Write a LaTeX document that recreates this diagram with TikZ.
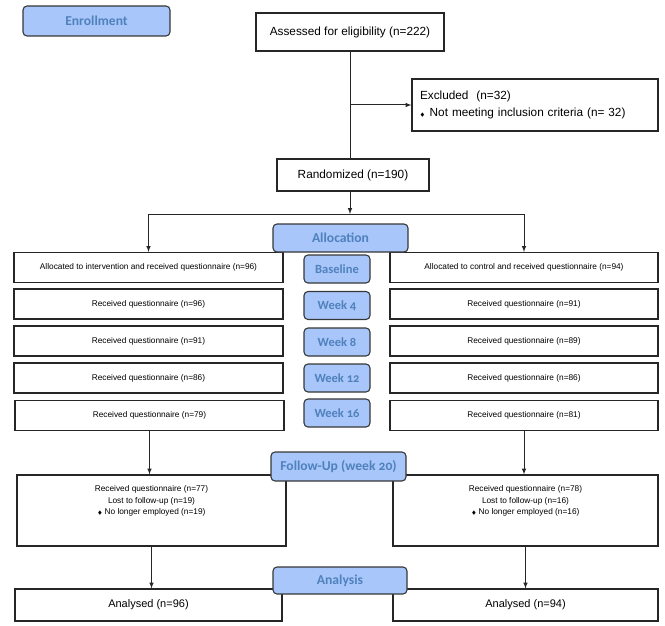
\documentclass[tikz,border=0pt]{standalone}
\usepackage{amsmath,amssymb}
\usepackage{fontspec}
\setmainfont{Liberation Sans}
\newfontfamily\stagefont[Numbers=OldStyle]{Carlito}
\usepackage{tikz}
\usetikzlibrary{arrows}
\usetikzlibrary{calc}

\definecolor{stagefill}{RGB}{168,198,250}
\definecolor{stagetext}{RGB}{79,129,189}
\definecolor{stageline}{RGB}{55,55,55}

\tikzset{
    box/.style={draw=black!85, line width=1.1pt, inner sep=0pt, align=center,
        font=\fontsize{11.8}{14}\selectfont},
    smallbox/.style={box, font=\fontsize{8.3}{11.5}\selectfont},
    stage/.style={draw=stageline, fill=stagefill, rounded corners=4pt, line width=1.1pt,
        inner sep=0pt, text=stagetext, font=\stagefont\bfseries\fontsize{13.6}{15}\selectfont},
    wk/.style={stage, minimum width=66pt, minimum height=28pt, font=\stagefont\bfseries\fontsize{12.5}{14}\selectfont},
    flow/.style={line width=1pt, black!85}
}

\newcommand{\dia}{{\tiny$\blacklozenge$}}

\begin{document}
\begin{tikzpicture}[x=1pt, y=-1pt]
    \useasboundingbox (0,0) rectangle (665,626);

    % enrollment
    \node[box, minimum width=188pt, minimum height=38pt] (assess) at (350,32) {Assessed for eligibility (n=222)};
    \node[box, minimum width=246pt, minimum height=52pt, align=left, text width=230pt, inner xsep=8pt,
        font=\fontsize{11.8}{17}\selectfont] (excl) at (535,105)
        {Excluded\ \ (n=32)\\\dia\hspace{5pt}Not meeting inclusion criteria (n= 32)};
    \node[box, minimum width=152pt, minimum height=32pt] (rand) at (353,175) {Randomized (n=190)};
    \coordinate (split) at (350,214);

    % allocation rows
    \node[smallbox, minimum width=269pt, minimum height=30pt] (l1) at (148.5,267.5) {Allocated to intervention and received questionnaire (n=96)};
    \node[smallbox, minimum width=268pt, minimum height=30pt] (r1) at (524,267.5) {Allocated to control and received questionnaire (n=94)};
    \node[smallbox, minimum width=269pt, minimum height=30pt] (l2) at (148.5,304) {Received questionnaire (n=96)};
    \node[smallbox, minimum width=268pt, minimum height=30pt] (r2) at (524,304) {Received questionnaire (n=91)};
    \node[smallbox, minimum width=269pt, minimum height=30pt] (l3) at (148.5,341) {Received questionnaire (n=91)};
    \node[smallbox, minimum width=268pt, minimum height=30pt] (r3) at (524,341) {Received questionnaire (n=89)};
    \node[smallbox, minimum width=269pt, minimum height=30pt] (l4) at (148.5,378) {Received questionnaire (n=86)};
    \node[smallbox, minimum width=268pt, minimum height=30pt] (r4) at (524,378) {Received questionnaire (n=86)};
    \node[smallbox, minimum width=269pt, minimum height=30pt] (l5) at (149.5,415.5) {Received questionnaire (n=79)};
    \node[smallbox, minimum width=268pt, minimum height=30pt] (r5) at (524,415.5) {Received questionnaire (n=81)};

    % follow-up
    \node[smallbox, minimum width=269pt, minimum height=71pt] (lfu) at (151.5,510.5) {};
    \node[smallbox, minimum width=265pt, minimum height=71pt] (rfu) at (525.5,510.5) {};
    \node[font=\fontsize{8.3}{11.5}\selectfont, align=center, anchor=north, inner sep=0pt] (lfutext) at ($(lfu.north)+(0,11)$)
        {Received questionnaire (n=77)\\Lost to follow-up (n=19)\\\dia\ No longer employed (n=19)};
    \node[font=\fontsize{8.3}{11.5}\selectfont, align=center, anchor=north, inner sep=0pt] (rfutext) at ($(rfu.north)+(0,11)$)
        {Received questionnaire (n=78)\\Lost to follow-up (n=16)\\\dia\ No longer employed (n=16)};

    % analysis
    \node[box, minimum width=267pt, minimum height=32pt, font=\fontsize{11}{13}\selectfont] (lan) at (148.5,605) {Analysed (n=96)};
    \node[box, minimum width=265pt, minimum height=32pt, font=\fontsize{11}{13}\selectfont] (ran) at (525.5,605) {Analysed (n=94)};

    % stage labels
    \node[stage, minimum width=147pt, minimum height=30pt] (enroll) at (96.5,21) {Enrollment};
    \node[stage, minimum width=135pt, minimum height=28pt] (alloc) at (340.5,238) {Allocation};
    \node[wk] (base) at (337,269) {Baseline};
    \node[wk] (wk4) at (337,305.5) {Week 4};
    \node[wk] (wk8) at (337,342) {Week 8};
    \node[wk] (wk12) at (337,378) {Week 12};
    \node[wk] (wk16) at (337,413) {Week 16};
    \node[stage, minimum width=135pt, minimum height=29pt] (fu) at (338.5,466.5) {Follow-Up (week 20)};
    \node[stage, minimum width=134pt, minimum height=27pt] (ana) at (340,580.5) {Analysis};

    % connectors
    \draw[flow] (assess.south) -- (assess.south |- rand.north);
    \draw[flow, -latex] (assess.south |- excl.west) -- (excl.west);
    \draw[flow, -latex] (assess.south |- rand.south) -- (split);
    \draw[flow, -latex] (split) -| (l1.north);
    \draw[flow, -latex] (split) -| (r1.north);
    \draw[flow, -latex] (l5.south) -- (l5.south |- lfu.north);
    \draw[flow, -latex] (r5.south) -- (r5.south |- rfu.north);
    \draw[flow, -latex] (lfu.south) -- (lfu.south |- lan.north);
    \draw[flow, -latex] (rfu.south) -- (rfu.south |- ran.north);
\end{tikzpicture}
\end{document}
